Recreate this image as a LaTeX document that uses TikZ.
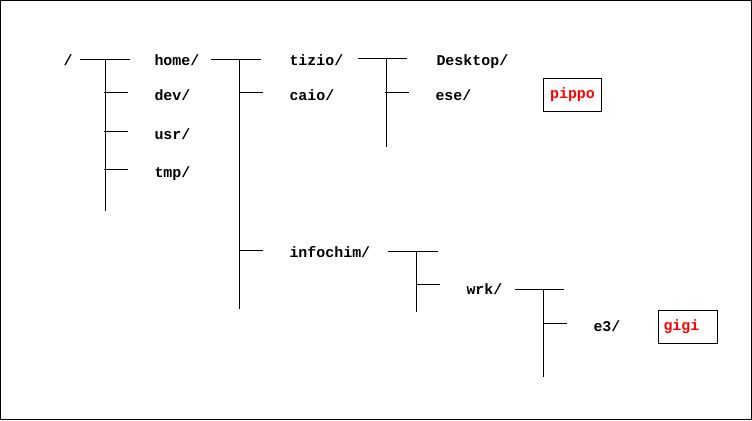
\documentclass[tikz,border=0pt]{standalone}
\usepackage{fontspec}
\setmonofont{Liberation Mono}
\begin{document}
\begin{tikzpicture}[x=1bp, y=-1bp, line width=1bp, line cap=butt,
        dir/.style={font=\ttfamily\bfseries\fontsize{15}{16}\selectfont, inner sep=0pt, anchor=base west},
        leaf/.style={draw, font=\ttfamily\bfseries\fontsize{15}{16}\selectfont, text=red, inner xsep=5bp, inner ysep=0pt, minimum height=33bp, anchor=north west}]
        \useasboundingbox (0,0) rectangle (752,420);
        \draw (0.5,0.5) rectangle (751.5,419.5);
        % names
        \node[dir] (root) at (63, 65) {/};
        \node[dir] (home) at (154, 65) {home/};
        \node[dir] (dev) at (154, 100) {dev/};
        \node[dir] (usr) at (154, 139) {usr/};
        \node[dir] (tmp) at (154, 177) {tmp/};
        \node[dir] (tizio) at (289, 65) {tizio/};
        \node[dir] (caio) at (289, 100) {caio/};
        \node[dir] (infochim) at (289, 257) {infochim/};
        \node[dir] (desktop) at (436, 65) {Desktop/};
        \node[dir] (ese) at (435, 100) {ese/};
        \node[dir] (wrk) at (466, 294) {wrk/};
        \node[dir] (e3) at (593, 331) {e3/};
        \node[leaf, minimum width=58bp] (pippo) at (543, 78) {pippo};
        \node[leaf, minimum width=59bp, text width=49bp, align=left] (gigi) at (658, 310) {gigi\vphantom{p}\raisebox{3bp}{}};
        % root
        \coordinate (root-a) at (80, 59);
        \coordinate (root-b) at (130, 59);
        \coordinate (root-s) at (105, 59);
        \coordinate (root-e) at (105, 211);
        \draw (root-a) -- (root-b);
        \draw (root-s) -- (root-e);
        \draw (104, 92) -- (128, 92);
        \draw (104, 131) -- (128, 131);
        \draw (104, 169) -- (128, 169);
        % home
        \coordinate (home-a) at (211, 59);
        \coordinate (home-b) at (261, 59);
        \coordinate (home-s) at (239, 59);
        \coordinate (home-e) at (239, 309);
        \draw (home-a) -- (home-b);
        \draw (home-s) -- (home-e);
        \draw (239, 92) -- (263, 92);
        \draw (239, 250) -- (263, 250);
        % tizio
        \coordinate (tizio-a) at (358, 58);
        \coordinate (tizio-b) at (407, 58);
        \coordinate (tizio-s) at (386, 58);
        \coordinate (tizio-e) at (386, 147);
        \draw (tizio-a) -- (tizio-b);
        \draw (tizio-s) -- (tizio-e);
        \draw (385, 92) -- (409, 92);
        % infochim
        \coordinate (infochim-a) at (388, 251);
        \coordinate (infochim-b) at (438, 251);
        \coordinate (infochim-s) at (416, 251);
        \coordinate (infochim-e) at (416, 312);
        \draw (infochim-a) -- (infochim-b);
        \draw (infochim-s) -- (infochim-e);
        \draw (416, 284) -- (440, 284);
        % wrk
        \coordinate (wrk-a) at (515, 289);
        \coordinate (wrk-b) at (564, 289);
        \coordinate (wrk-s) at (543, 289);
        \coordinate (wrk-e) at (543, 377);
        \draw (wrk-a) -- (wrk-b);
        \draw (wrk-s) -- (wrk-e);
        \draw (543, 323) -- (567, 323);
    \end{tikzpicture}
\end{document}
